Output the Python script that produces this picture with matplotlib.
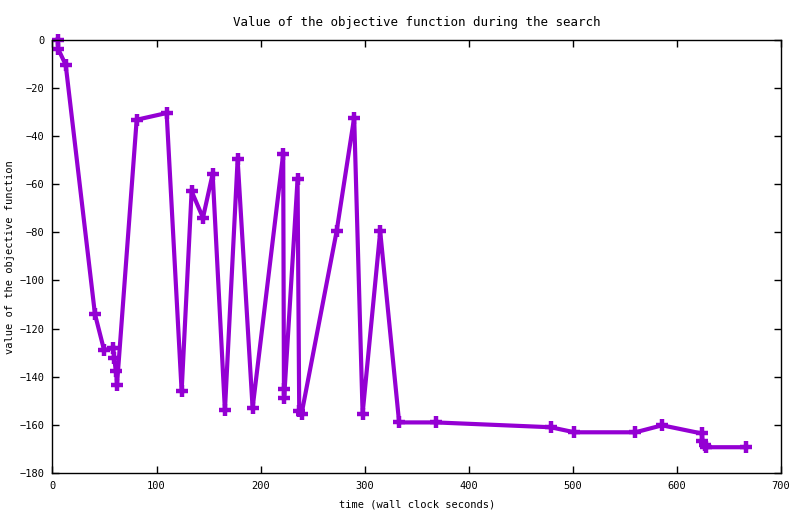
import numpy as np
import matplotlib
matplotlib.use('Agg')
from matplotlib import pyplot as plt

# objective value over wall clock time
t = [5, 5.6, 12.7, 40.8, 49.6, 58.4, 59.2, 61, 62, 80.9, 109.7, 124.1,
     133.7, 144.6, 153.9, 165.7, 177.9, 192.3, 221.7, 222.4, 222.6,
     235.5, 237.1, 239.4, 273, 289.9, 298, 314.9, 333.1, 368.4, 478.6,
     501.6, 560.2, 585.8, 624, 624.5, 627, 628, 666]
obj = [0, -4, -10.5, -114, -129, -128, -132.2, -137.7, -143.3, -33.3, -30.5,
       -146, -63, -74, -55.8, -154, -49.8, -153, -47.4, -145.3, -148.8,
       -58.1, -154.4, -155.3, -79.7, -32.4, -155.3, -79.7, -159, -159,
       -161, -163.1, -163.1, -160.2, -163.6, -166.6, -168.2, -169.3, -169.3]

xticks = np.arange(0, 701, 100)
yticks = np.arange(-180, 1, 20)

plt.rcParams['font.family'] = ['DejaVu Sans Mono']
plt.rcParams['font.size'] = 7.5

fig = plt.figure(figsize=(8, 5.14), dpi=100)
ax = fig.add_axes([0.0656, 0.0798, 0.9106, 0.8432])

ax.plot(t, obj, color='#9400D3', lw=3, marker='+', ms=9, mew=3.2,
        solid_joinstyle='miter', clip_on=False)

ax.set_xlim(0, 700)
ax.set_ylim(-180, 0)
ax.set_xticks(xticks)
ax.set_yticks(yticks)
ax.tick_params(direction='in', length=5, width=1, top=True, right=True, pad=6)
for s in ax.spines.values():
    s.set_linewidth(1)

ax.set_title('Value of the objective function during the search', pad=10)
ax.set_xlabel('time (wall clock seconds)', labelpad=6)
fig.text(0.013, 0.5, 'value of the objective function', rotation=90,
         ha='center', va='center')

plt.savefig('out.png', dpi=100)
